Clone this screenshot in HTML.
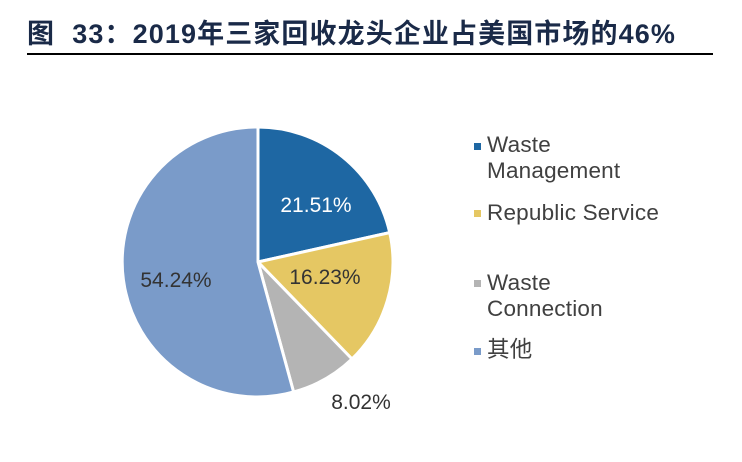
<!DOCTYPE html>
<html><head><meta charset="utf-8"><style>
body{margin:0;width:742px;height:462px;background:#fff;overflow:hidden;position:relative;font-family:"Liberation Sans","Noto Sans CJK SC",sans-serif}
.t{position:absolute;left:27px;top:12px;font-size:27px;font-weight:bold;color:#1a2a48;white-space:nowrap;letter-spacing:1.1px}
.ln{position:absolute;left:27px;top:53px;width:686px;height:2px;background:#000}
.lg{position:absolute;font-size:22.5px;color:#404040;line-height:26px;letter-spacing:0.2px}
.sq{position:absolute;width:7px;height:7px}
</style></head><body>
<div class="t">图&nbsp; 33：2019年三家回收龙头企业占美国市场的46%</div>
<div class="ln"></div>
<svg width="742" height="462" style="position:absolute;left:0;top:0">
<g stroke="#fff" stroke-width="3" stroke-linejoin="round">
<path d="M258,262 L258,127 A135,135 0 0 1 389.7,232.6 Z" fill="#1e67a3"/>
<path d="M258,262 L389.7,232.6 A135,135 0 0 1 352,359 Z" fill="#e5c763"/>
<path d="M258,262 L352,359 A135,135 0 0 1 293.6,392 Z" fill="#b4b4b4"/>
<path d="M258,262 L293.6,392 A135,135 0 1 1 258,127 Z" fill="#7a9bc9"/>
</g>
<g font-family="Liberation Sans, sans-serif" font-size="21" text-anchor="middle">
<text x="316" y="212" fill="#fff">21.51%</text>
<text x="325" y="284" fill="#333">16.23%</text>
<text x="176" y="287" fill="#333">54.24%</text>
<text x="361" y="409" fill="#333">8.02%</text>
</g>
</svg>
<div class="sq" style="left:474px;top:143px;background:#1e67a3"></div>
<div class="lg" style="left:487px;top:132px">Waste<br>Management</div>
<div class="sq" style="left:474px;top:210px;background:#e5c763"></div>
<div class="lg" style="left:487px;top:200px">Republic Service</div>
<div class="sq" style="left:474px;top:280px;background:#b4b4b4"></div>
<div class="lg" style="left:487px;top:270px">Waste<br>Connection</div>
<div class="sq" style="left:474px;top:348px;background:#7a9bc9"></div>
<div class="lg" style="left:487px;top:337px">其他</div>
</body></html>
